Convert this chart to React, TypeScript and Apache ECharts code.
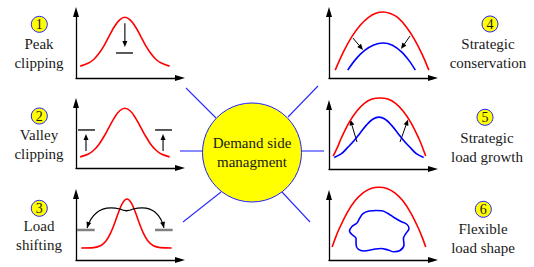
import React, { useEffect, useRef } from "react";
import * as echarts from "echarts";

const SERIF = "Liberation Serif, Times New Roman, Times, serif";

// ---- Panel data (x: time 0–100, y: load 0–100 inside each small panel) ----
// 1 Peak clipping
const peakX = [4, 12, 17, 22, 27, 32, 37, 42, 47, 52, 57, 62, 67, 72, 77, 82, 90];
const peakLoad = [18, 22.6, 28, 37, 49, 64, 78, 88, 92, 88, 78, 64, 49, 37, 28, 22.6, 18];
const peakArrow = [[47, 83, 47, 47]];
const peakCap = [[38.5, 37.9, 54.8, 37.9]];

// 2 Valley clipping
const valleyX = [4, 12, 17, 22, 27, 32, 37, 42, 47, 52, 57, 62, 67, 72, 77, 82, 90];
const valleyLoad = [17.1, 21.5, 27.3, 36.3, 48.8, 63.4, 77.6, 88.1, 92, 88.1, 77.6, 63.4, 48.8, 36.3, 27.3, 21.5, 17.1];
const valleyArrows = [[9.6, 26.2, 9.6, 52.3], [83.7, 26.2, 83.7, 52.3]];
const valleyFloors = [[1.9, 58.5, 18.3, 58.5], [76, 58.5, 92.3, 58.5]];

// 3 Load shifting
const shiftX = [5, 17, 24, 29, 33, 37, 41, 45, 49, 53, 57, 61, 65, 69, 74, 81, 92];
const shiftLoad = [18.2, 18.7, 21.9, 29, 39.9, 55.3, 72.7, 86.9, 92.4, 86.9, 72.7, 55.3, 39.9, 29, 21.9, 18.7, 18.2];
const shiftLevels = [[1, 45.5, 18, 45.5], [76, 45.5, 93, 45.5]];
const shiftArrows = [[42.3, 77.3, 10.6, 48.5, 18.3, 86.4], [54.8, 77.3, 84.6, 48.5, 78.8, 86.4]];
const shiftTop = [[42.3, 77.3, 54.8, 77.3, 48.5, 72]];

// 4 Strategic conservation
const consRedX = [6, 14, 22, 30, 38, 45, 52, 59, 66, 74, 82, 90, 96];
const consRed = [12, 40, 62.6, 80, 92, 98, 100, 97.8, 91.8, 78, 59, 34.4, 12];
const consBlueX = [18, 26, 34, 43, 52, 61, 70, 77, 83];
const consBlue = [12, 29, 41.5, 50.1, 53, 49.6, 39.2, 26.3, 12];
const consArrows = [[23, 60.6, 32.7, 42.4], [77.9, 63.6, 69.2, 44]];

// 5 Strategic load growth
const growRedX = [4, 8.1, 11.6, 19.1, 26.6, 34, 41.5, 49, 56.5, 64, 71.4, 78.9, 86.4, 89.9, 93];
const growRed = [20.3, 33.7, 47.6, 72.2, 90.4, 102.6, 109.2, 111, 109.2, 102.6, 90.4, 72.2, 47.6, 33.7, 20.3];
const growBlueX = [5, 12, 18, 24, 30, 36, 42, 48, 54, 60, 66, 72, 78, 84, 91];
const growBlue = [18, 24, 33.7, 44.1, 56.4, 68.6, 77.7, 81, 77.7, 68.6, 56.4, 44.1, 33.7, 24, 18];
const growArrows = [[26.9, 42.2, 20.4, 77.5], [68.3, 42.2, 76, 77.5]];

// 6 Flexible load shape
const flexRedX = [3, 6.1, 9.7, 17.4, 25, 32.7, 40.3, 48, 55.7, 63.3, 71, 78.6, 86.3, 89.9, 93];
const flexRed = [20, 33.6, 47.7, 72.6, 91.1, 103.4, 110.1, 112, 110.1, 103.4, 91.1, 72.6, 47.7, 33.6, 20];
const blobX = [38.5, 45.2, 51, 56.7, 62.5, 69.2, 75, 76.9, 74, 71.6, 72.1, 68.3, 62.5, 56.7, 50, 42.3, 33.7, 27.9, 26, 26, 22.1, 19.7, 22.1, 26.9, 29.3, 32.7, 38.5];
const blobY = [75.4, 76.2, 75.7, 71.5, 65.4, 59.2, 54.6, 48.5, 40.8, 33.1, 23.1, 14.6, 12.6, 15.4, 17.7, 16.2, 13.8, 16.9, 24.6, 33.1, 39.2, 44.6, 51.5, 56.9, 63.8, 71.5, 75.4];

// ---- Texts ----
const strategyNames = [
  "Peak\nclipping",
  "Valley\nclipping",
  "Load\nshifting",
  "Strategic\nconservation",
  "Strategic\nload growth",
  "Flexible\nload shape",
];
const badgeNumbers = ["1", "2", "3", "4", "5", "6"];
const centerTitle = "Demand side\nmanagment";

// ---- Layout (overlay grid in page pixels) ----
const namePos = [[39, 53], [39, 144.5], [39, 235.5], [488, 53], [487, 147], [483, 238]];
const badgePos = [[39.3, 24.3], [39.3, 116], [39.3, 208.3], [490, 24], [485, 117.3], [483.3, 209.3]];
const centerPos = [252, 152.5];
const rays = [
  [186, 88, 216, 118],
  [180, 151, 202, 151],
  [221, 192, 183, 222],
  [288, 117, 318, 86],
  [302, 151, 324, 151],
  [282, 192, 310, 222],
];

const panelGrids = [
  { left: 76, top: 12, width: 104, height: 66 },
  { left: 76, top: 103, width: 104, height: 65 },
  { left: 76, top: 194, width: 104, height: 66 },
  { left: 329, top: 12, width: 104, height: 66 },
  { left: 329, top: 105, width: 104, height: 64 },
  { left: 329, top: 195, width: 104, height: 65 },
];

const RED = "#ff0000";
const BLUE = "#0000ff";
const TEXT = "#1a1a1a";

function curve(grid: number, xs: number[], ys: number[], color: string, smooth: any = 0.35) {
  return {
    type: "line",
    xAxisIndex: grid,
    yAxisIndex: grid,
    data: xs.map((x, i) => [x, ys[i]]),
    showSymbol: false,
    symbol: "none",
    smooth,
    clip: false,
    silent: true,
    lineStyle: { color, width: 1.6 },
    z: 4,
  };
}

function strokes(grid: number, segs: number[][], color: string, width: number, head: boolean, z = 3) {
  return {
    type: "custom",
    xAxisIndex: grid,
    yAxisIndex: grid,
    silent: true,
    clip: false,
    z,
    data: segs.map((s) => [s[0], s[1]]),
    renderItem: (params: any, api: any) => {
      const s = segs[params.dataIndex];
      const p1 = api.coord([s[0], s[1]]);
      const p2 = api.coord([s[2], s[3]]);
      const cp = s.length >= 6 ? api.coord([s[4], s[5]]) : null;
      const children: any[] = [];
      let end = p2;
      if (head) {
        const from = cp || p1;
        let dx = p2[0] - from[0];
        let dy = p2[1] - from[1];
        const L = Math.hypot(dx, dy) || 1;
        dx /= L;
        dy /= L;
        const hl = 6;
        const hw = 2.5;
        const bx = p2[0] - dx * hl;
        const by = p2[1] - dy * hl;
        children.push({
          type: "polygon",
          shape: { points: [[p2[0], p2[1]], [bx - dy * hw, by + dx * hw], [bx + dy * hw, by - dx * hw]] },
          style: { fill: color },
        });
        if (!cp) end = [bx, by];
      }
      if (cp) {
        children.unshift({
          type: "bezierCurve",
          shape: { x1: p1[0], y1: p1[1], x2: end[0], y2: end[1], cpx1: cp[0], cpy1: cp[1] },
          style: { stroke: color, lineWidth: width, fill: "none" },
        });
      } else {
        children.unshift({
          type: "line",
          shape: { x1: p1[0], y1: p1[1], x2: end[0], y2: end[1] },
          style: { stroke: color, lineWidth: width },
        });
      }
      return { type: "group", children };
    },
  };
}

function buildOption() {
  const axisLine = {
    show: true,
    onZero: false,
    symbol: ["none", "triangle"],
    symbolSize: [6, 10],
    lineStyle: { color: "#000", width: 1.3 },
  };
  const hidden = { axisTick: { show: false }, axisLabel: { show: false }, splitLine: { show: false } };
  const grids: any[] = panelGrids.map((g) => ({ ...g, containLabel: false, outerBoundsMode: "none" }));
  grids.push({ left: 0, top: 0, width: 534, height: 267, containLabel: false, outerBoundsMode: "none" });
  const xAxis: any[] = panelGrids.map((_, i) => ({ type: "value", gridIndex: i, min: 0, max: 100, axisLine, ...hidden }));
  const yAxis: any[] = panelGrids.map((_, i) => ({ type: "value", gridIndex: i, min: 0, max: 100, axisLine, ...hidden }));
  xAxis.push({ type: "value", gridIndex: 6, min: 0, max: 534, show: false });
  yAxis.push({ type: "value", gridIndex: 6, min: 0, max: 267, inverse: true, show: false });

  const series: any[] = [
    curve(0, peakX, peakLoad, RED),
    strokes(0, peakCap, "#000", 1.3, false),
    strokes(0, peakArrow, "#000", 1.1, true),

    curve(1, valleyX, valleyLoad, RED),
    strokes(1, valleyFloors, "#000", 1.3, false),
    strokes(1, valleyArrows, "#000", 1.1, true),

    curve(2, shiftX, shiftLoad, RED),
    strokes(2, shiftLevels, "#808080", 2.5, false),
    strokes(2, shiftArrows, "#000", 1.1, true, 5),
    strokes(2, shiftTop, "#000", 1.3, false, 5),

    curve(3, consRedX, consRed, RED),
    curve(3, consBlueX, consBlue, BLUE),
    strokes(3, consArrows, "#000", 1, true),

    curve(4, growRedX, growRed, RED),
    curve(4, growBlueX, growBlue, BLUE),
    strokes(4, growArrows, "#000", 1, true),

    curve(5, flexRedX, flexRed, RED),
    curve(5, blobX, blobY, BLUE, 0.4),

    strokes(6, rays, "#2a2aff", 1.1, false, 1),
    {
      type: "scatter",
      xAxisIndex: 6,
      yAxisIndex: 6,
      silent: true,
      z: 6,
      symbolSize: 99,
      itemStyle: { color: "#ffff00", borderColor: "#2020ff", borderWidth: 1, opacity: 1 },
      label: {
        show: true,
        position: "inside",
        formatter: "{b}",
        fontSize: 15,
        lineHeight: 19,
        color: TEXT,
        fontFamily: SERIF,
      },
      data: [{ value: centerPos, name: centerTitle }],
    },
    {
      type: "scatter",
      xAxisIndex: 6,
      yAxisIndex: 6,
      silent: true,
      z: 6,
      symbolSize: 16,
      itemStyle: { color: "#ffff00", borderColor: "#2020ff", borderWidth: 1, opacity: 1 },
      label: {
        show: true,
        position: "inside",
        formatter: "{b}",
        fontSize: 14,
        color: TEXT,
        fontFamily: SERIF,
      },
      data: badgeNumbers.map((n, i) => ({ value: badgePos[i], name: n })),
    },
    {
      type: "custom",
      xAxisIndex: 6,
      yAxisIndex: 6,
      silent: true,
      z: 6,
      data: namePos,
      renderItem: (params: any, api: any) => {
        const p = api.coord([api.value(0), api.value(1)]);
        return {
          type: "text",
          x: p[0],
          y: p[1],
          style: {
            text: strategyNames[params.dataIndex],
            fill: TEXT,
            font: "15px " + SERIF,
            fontSize: 15,
            fontFamily: SERIF,
            align: "center",
            verticalAlign: "middle",
            lineHeight: 19,
          },
        };
      },
    },
  ];

  return {
    animation: false,
    backgroundColor: "#ffffff",
    textStyle: { fontFamily: SERIF },
    grid: grids,
    xAxis,
    yAxis,
    series,
  };
}

export default function App() {
  const ref = useRef<HTMLDivElement>(null);
  useEffect(() => {
    if (!ref.current) return;
    const chart = echarts.init(ref.current, undefined, { renderer: "svg" });
    chart.setOption(buildOption() as any);
    return () => chart.dispose();
  }, []);
  return (
    <div
      ref={ref}
      style={{ position: "absolute", left: 0, top: 0, width: 534, height: 267 }}
    />
  );
}
